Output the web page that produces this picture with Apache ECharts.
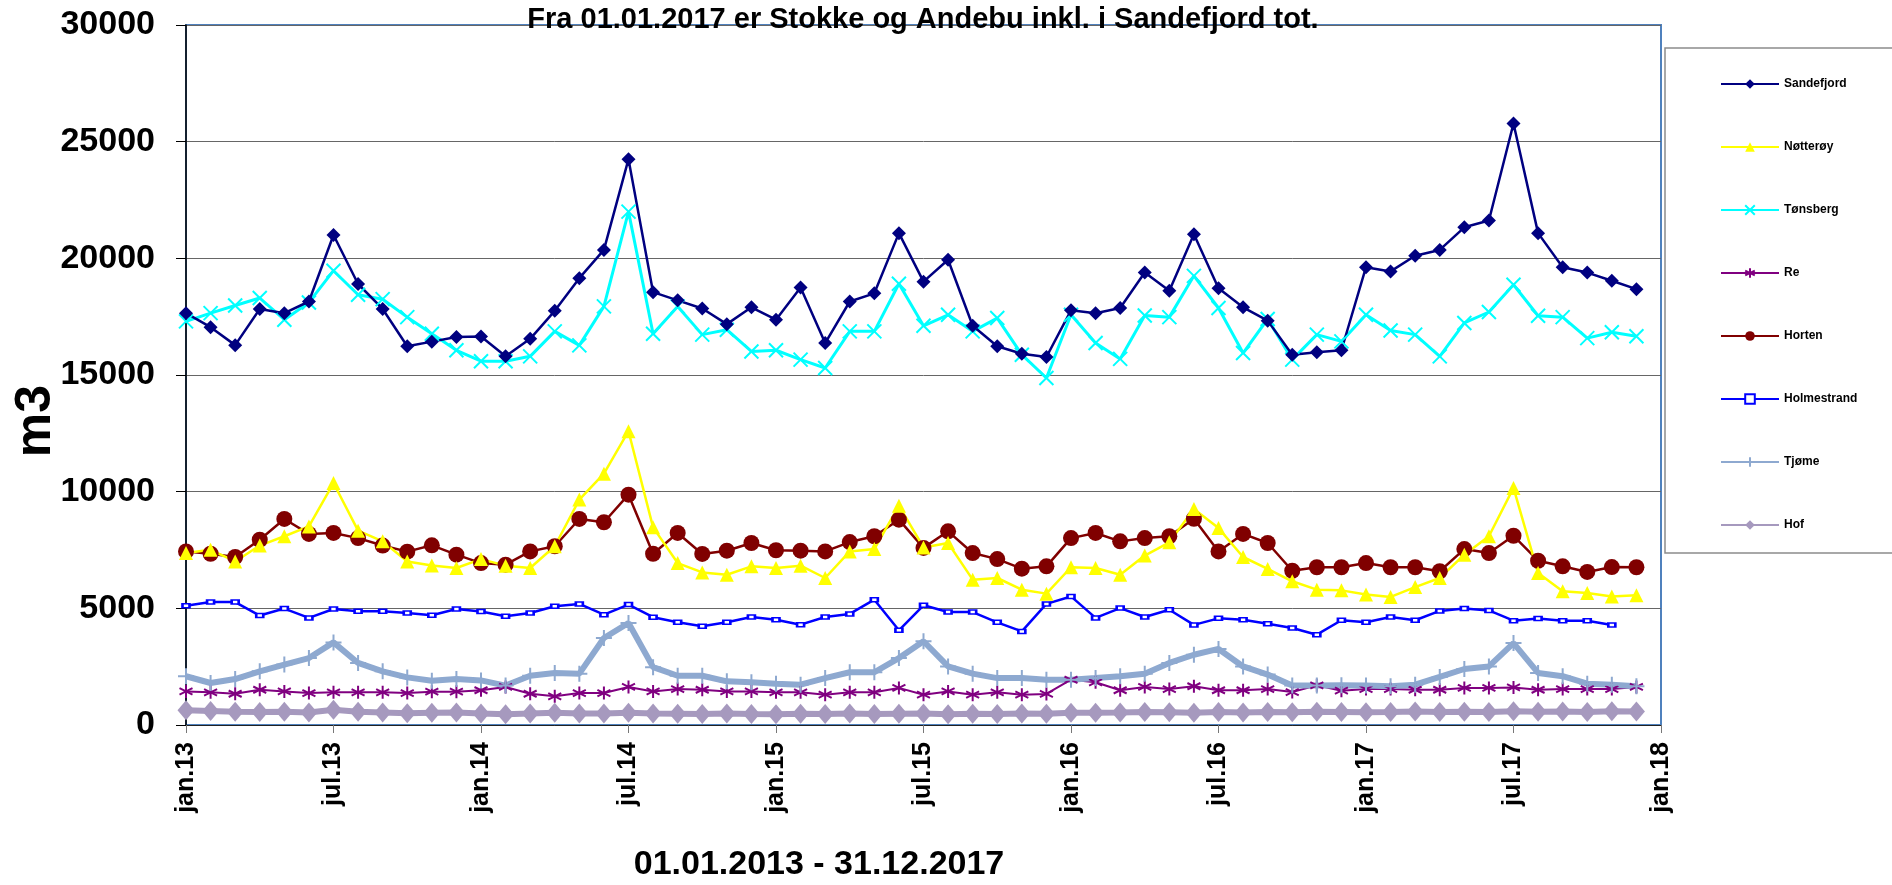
<!DOCTYPE html>
<html>
<head>
<meta charset="utf-8">
<script src="https://cdn.jsdelivr.net/npm/echarts@6/dist/echarts.min.js"></script>
<style>
html,body{margin:0;padding:0;background:#fff;}
#chart{width:1892px;height:885px;}
</style>
</head>
<body>
<div id="chart"></div>
<script>
// Month categories (jan.13 ... jan.18)
const months = [
 'jan.13','feb.13','mar.13','apr.13','mai.13','jun.13','jul.13','aug.13','sep.13','okt.13','nov.13','des.13',
 'jan.14','feb.14','mar.14','apr.14','mai.14','jun.14','jul.14','aug.14','sep.14','okt.14','nov.14','des.14',
 'jan.15','feb.15','mar.15','apr.15','mai.15','jun.15','jul.15','aug.15','sep.15','okt.15','nov.15','des.15',
 'jan.16','feb.16','mar.16','apr.16','mai.16','jun.16','jul.16','aug.16','sep.16','okt.16','nov.16','des.16',
 'jan.17','feb.17','mar.17','apr.17','mai.17','jun.17','jul.17','aug.17','sep.17','okt.17','nov.17','des.17',
 'jan.18'
];

const sandefjord = [17650,17050,16280,17830,17650,18150,21000,18900,17830,16230,16430,16630,
 16650,15800,16550,17750,19150,20360,24250,18550,18200,17850,17180,17900,
 17370,18750,16370,18150,18500,21080,19000,19940,17110,16230,15910,15770,
 17770,17650,17870,19390,18610,21030,18720,17900,17330,15870,15970,16060,
 19620,19440,20110,20360,21330,21620,25780,21080,19620,19390,19040,18680];

const notteroy = [7370,7510,7010,7690,8090,8510,10370,8330,7870,7010,6840,6730,
 7110,6830,6730,7660,9660,10770,12590,8470,6940,6540,6440,6800,
 6730,6830,6300,7440,7540,9400,7610,7800,6230,6300,5800,5630,
 6760,6730,6440,7260,7830,9260,8440,7200,6690,6160,5800,5770,
 5590,5490,5910,6300,7300,8090,10160,6510,5730,5660,5510,5560];

const tonsberg = [17300,17650,17980,18300,17370,18110,19470,18440,18250,17480,16770,16060,
 15590,15590,15800,16870,16270,17940,22000,16770,17940,16730,16940,16010,
 16060,15660,15300,16870,16870,18910,17110,17580,16870,17440,15870,14870,
 17580,16370,15690,17550,17480,19250,17870,15940,17400,15660,16730,16440,
 17580,16910,16730,15800,17230,17700,18870,17540,17480,16580,16830,16660];

const re = [1440,1400,1340,1510,1440,1370,1400,1400,1400,1370,1430,1430,
 1490,1630,1340,1230,1370,1370,1630,1440,1540,1510,1440,1440,
 1400,1400,1300,1400,1400,1590,1300,1440,1300,1400,1300,1330,
 1940,1830,1490,1630,1540,1660,1490,1490,1540,1410,1700,1470,
 1540,1540,1510,1510,1590,1590,1610,1510,1540,1540,1540,1630];

const horten = [7440,7340,7200,7940,8830,8190,8230,8010,7690,7430,7700,7300,
 6940,6870,7440,7660,8830,8690,9870,7340,8230,7330,7470,7800,
 7490,7470,7440,7840,8090,8800,7590,8300,7370,7110,6700,6800,
 8010,8230,7870,8010,8090,8840,7440,8190,7800,6610,6760,6760,
 6940,6760,6760,6590,7540,7370,8110,7040,6800,6560,6770,6760];

const holmestrand = [5110,5270,5270,4690,4990,4590,4970,4870,4870,4800,4700,4970,
 4860,4660,4800,5090,5190,4730,5160,4620,4400,4230,4400,4630,
 4510,4300,4630,4760,5370,4060,5130,4840,4840,4400,4010,5190,
 5510,4590,5010,4630,4940,4290,4570,4510,4340,4160,3870,4490,
 4400,4630,4490,4890,4990,4910,4470,4560,4470,4470,4290,null];

const tjome = [2090,1800,1970,2300,2590,2870,3540,2660,2300,2040,1900,1970,
 1910,1690,2110,2230,2200,3730,4370,2480,2110,2110,1870,1830,
 1770,1730,2010,2260,2260,2870,3590,2510,2200,2010,2010,1940,
 1940,2010,2090,2200,2660,3010,3260,2510,2160,1690,1690,1700,
 1690,1660,1730,2060,2400,2510,3510,2230,2090,1770,1730,1660];

const hof = [630,600,570,560,570,540,650,570,540,500,520,540,
 490,460,490,520,490,490,520,490,480,470,490,470,
 460,480,470,490,470,480,490,460,480,470,490,480,
 520,530,540,560,550,520,560,540,560,550,570,560,
 550,560,580,560,570,560,590,570,580,560,590,580];

const yTicks = {min: 0, max: 30000, step: 5000};

const X_PATH = 'path://M0,0L10,10M10,0L0,10';
const STAR_PATH = 'path://M5,0L5,10M0.7,2.5L9.3,7.5M9.3,2.5L0.7,7.5';
const PLUS_PATH = 'path://M5,0L5,10M0,5L10,5';

const chart = echarts.init(document.getElementById('chart'), null, {renderer: 'canvas'});

function mk(name, data, color, lw, symbol, size, extraItem) {
  return {
    name: name, type: 'line', data: data,
    showSymbol: true, showAllSymbol: true,
    symbol: symbol, symbolSize: size,
    lineStyle: {color: color, width: lw},
    itemStyle: Object.assign({color: color, borderColor: color, borderWidth: 0}, extraItem || {}),
    emphasis: {disabled: true},
    connectNulls: false
  };
}

const FONT = '"Liberation Sans", Arial, sans-serif';

const option = {
  animation: false,
  backgroundColor: '#ffffff',
  grid: {left: 186, right: 231, top: 25, bottom: 160, show: true, borderColor: '#4F81BD', borderWidth: 2, backgroundColor: 'transparent'},
  legend: {
    orient: 'vertical', left: 1715, top: 73,
    itemWidth: 58, itemHeight: 12, itemGap: 51,
    selectedMode: false,
    textStyle: {fontFamily: FONT, fontWeight: 'bold', fontSize: 12, color: '#000'},
    data: ['Sandefjord','Nøtterøy','Tønsberg','Re','Horten','Holmestrand','Tjøme','Hof']
  },
  xAxis: {
    type: 'category', data: months, boundaryGap: false,
    axisLine: {show: true, lineStyle: {color: '#222', width: 1}},
    axisTick: {show: true, interval: 5, length: 8, lineStyle: {color: '#777'}},
    axisLabel: {interval: 5, rotate: 90, margin: 17, fontFamily: FONT, fontWeight: 'bold', fontSize: 25, color: '#000'},
    splitLine: {show: false}
  },
  yAxis: {
    type: 'value', min: yTicks.min, max: yTicks.max, interval: yTicks.step,
    axisLine: {show: true, lineStyle: {color: '#000', width: 1.5}},
    axisTick: {show: true, length: 10, lineStyle: {color: '#000'}},
    axisLabel: {margin: 31, fontFamily: FONT, fontWeight: 'bold', fontSize: 34, color: '#000', formatter: function (v) { return String(v); }},
    splitLine: {show: true, lineStyle: {color: '#666', width: 1}}
  },
  graphic: [
    {type: 'rect', z: 0, shape: {x: 1665, y: 48, width: 240, height: 505}, style: {fill: '#fff', stroke: '#8c8c8c', lineWidth: 1.5}},
    {type: 'text', z: 100, x: 923, y: 20, style: {text: 'Fra 01.01.2017 er Stokke og Andebu inkl. i Sandefjord tot.', font: 'bold 29px ' + FONT, fill: '#000', align: 'center', verticalAlign: 'middle'}},
    {type: 'text', z: 100, x: 36, y: 421, rotation: Math.PI / 2, style: {text: 'm3', font: 'bold 50px ' + FONT, fill: '#000', align: 'center', verticalAlign: 'middle'}},
    {type: 'text', z: 100, x: 819, y: 865, style: {text: '01.01.2013 - 31.12.2017', font: 'bold 34px ' + FONT, fill: '#000', align: 'center', verticalAlign: 'middle'}}
  ],
  series: [
    mk('Hof', hof, '#A699BE', 6, 'diamond', [17, 20]),
    mk('Re', re, '#800080', 2, STAR_PATH, 13, {borderWidth: 2}),
    mk('Tjøme', tjome, '#8EA9D0', 6, PLUS_PATH, 16, {borderWidth: 2}),
    mk('Holmestrand', holmestrand, '#0000FF', 2.5, 'emptyRect', [7, 4], {borderWidth: 1.5}),
    mk('Horten', horten, '#800000', 2.5, 'circle', 16),
    mk('Nøtterøy', notteroy, '#FFFF00', 2.5, 'triangle', 14),
    mk('Tønsberg', tonsberg, '#00FFFF', 3, X_PATH, 14, {borderWidth: 2}),
    mk('Sandefjord', sandefjord, '#000080', 2.5, 'diamond', 14)
  ]
};

chart.setOption(option);
</script>
</body>
</html>
